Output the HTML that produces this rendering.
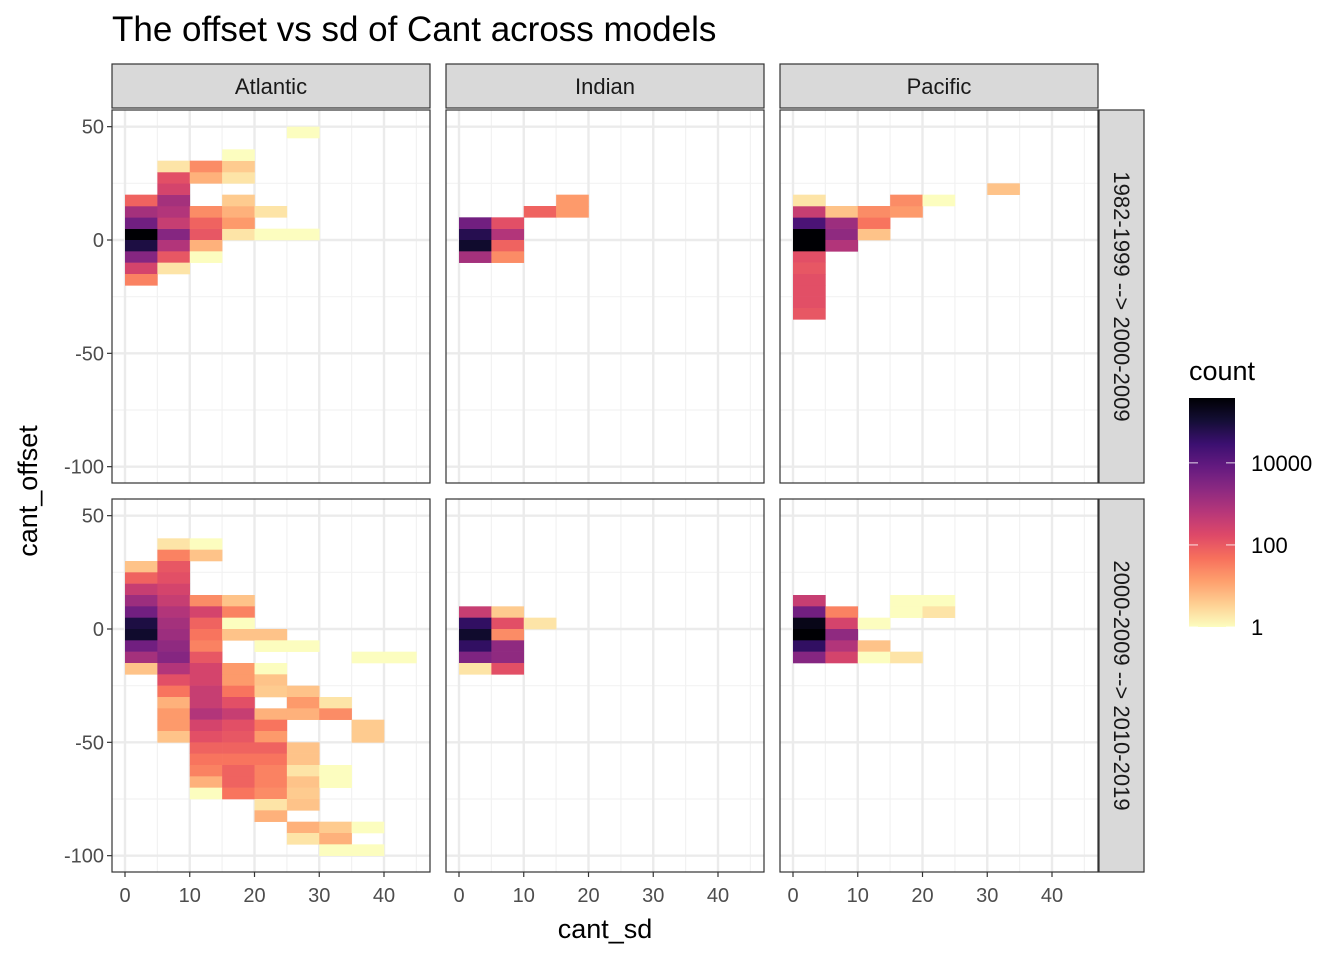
<!DOCTYPE html>
<html><head><meta charset="utf-8"><style>
html,body{margin:0;padding:0;background:#fff;}
svg{display:block;font-family:"Liberation Sans",Arial,sans-serif;}
</style></head><body>
<svg id="chart" width="1344" height="960" viewBox="0 0 1344 960" xmlns="http://www.w3.org/2000/svg">
<rect x="0" y="0" width="1344" height="960" fill="#fff"/>
<text x="112" y="41" font-size="35" fill="#000">The offset vs sd of Cant across models</text>
<g id="panels"></g>
<text x="605" y="938" font-size="27" text-anchor="middle" fill="#000">cant_sd</text>
<text transform="translate(37,491) rotate(-90)" font-size="27" text-anchor="middle" fill="#000">cant_offset</text>
<g>
<text x="1189" y="380" font-size="27" fill="#000">count</text>
<defs><linearGradient id="cg" x1="0" y1="1" x2="0" y2="0"></linearGradient></defs>
<rect x="1189" y="398" width="46" height="229" fill="url(#cg)"/>
<g id="legendTicks"></g>
</g>
</svg>
<script>
// Data: each cell = [sd bin lower edge, offset bin lower edge, count]
const panelRegions = ["Atlantic","Indian","Pacific"];
const panelPeriods = ["1982-1999 --> 2000-2009","2000-2009 --> 2010-2019"];
const atlanticTop = [
[0,0,380000],[5,0,2790],[10,0,108],[15,0,2],[20,0,1],[25,0,1],
[0,5,5350],[5,5,370],[10,5,73],[15,5,15],
[0,10,1080],[5,10,710],[10,10,22],[15,10,8],[20,10,2],
[0,15,73],[5,15,1080],[15,15,4],
[5,20,239],
[5,25,141],[10,25,8],[15,25,2],
[5,30,2],[10,30,22],[15,30,4],
[15,35,1],
[25,45,1],
[0,-5,79000],[5,-5,710],[10,-5,8],
[0,-10,2790],[5,-10,108],[10,-10,1],
[0,-15,239],[5,-15,2],
[0,-20,29]];
const atlanticBottom = [
[5,35,2],[10,35,1],
[5,30,29],[10,30,5],
[0,25,5],[5,25,108],
[0,20,73],[5,20,141],
[0,15,370],[5,15,239],
[0,10,1390],[5,10,370],[10,10,22],[15,10,5],
[0,5,5350],[5,5,710],[10,5,239],[15,5,29],
[0,0,79000],[5,0,1080],[10,0,73],[15,0,1],
[0,-5,134000],[5,-5,1390],[10,-5,42],[15,-5,5],[20,-5,5],
[0,-10,5350],[5,-10,2050],[10,-10,29],[20,-10,1],[25,-10,1],
[0,-15,1080],[5,-15,2790],[10,-15,108],[35,-15,1],[40,-15,1],
[0,-20,5],[5,-20,710],[10,-20,239],[15,-20,15],[20,-20,1],
[5,-25,141],[10,-25,239],[15,-25,15],[20,-25,5],
[5,-30,42],[10,-30,370],[15,-30,42],[20,-30,4],[25,-30,5],
[5,-35,8],[10,-35,370],[15,-35,141],[25,-35,15],[30,-35,2],
[5,-40,15],[10,-40,710],[15,-40,370],[20,-40,8],[25,-40,8],[30,-40,22],
[5,-45,15],[10,-45,239],[15,-45,141],[20,-45,42],[35,-45,4],
[5,-50,5],[10,-50,141],[15,-50,108],[20,-50,15],[35,-50,4],
[10,-55,73],[15,-55,73],[20,-55,73],[25,-55,5],
[10,-60,42],[15,-60,42],[20,-60,42],[25,-60,5],
[10,-65,29],[15,-65,73],[20,-65,29],[25,-65,2],[30,-65,1],
[10,-70,8],[15,-70,73],[20,-70,29],[25,-70,5],[30,-70,1],
[10,-75,1],[15,-75,42],[20,-75,22],[25,-75,4],
[20,-80,2],[25,-80,5],
[20,-85,8],
[25,-90,8],[30,-90,4],[35,-90,1],
[25,-95,2],[30,-95,8],
[30,-100,1],[35,-100,1]];
const indianTop = [
[0,0,59000],[5,0,710],
[0,5,5350],[5,5,141],
[10,10,73],[15,10,15],
[15,15,15],
[0,-5,134000],[5,-5,73],
[0,-10,1080],[5,-10,22]];
const indianBottom = [
[0,5,370],[5,5,4],
[0,0,40000],[5,0,141],[10,0,2],
[0,-5,134000],[5,-5,22],
[0,-10,40000],[5,-10,2050],
[0,-15,3500],[5,-15,2050],
[0,-20,2],[5,-20,141]];
const pacificTop = [
[0,0,380000],[5,0,2050],[10,0,5],
[0,5,17900],[5,5,1390],[10,5,42],
[0,10,370],[5,10,5],[10,10,22],[15,10,15],
[0,15,2],[15,15,22],[20,15,1],
[30,20,5],
[0,-5,380000],[5,-5,710],
[0,-10,141],[0,-15,108],[0,-20,141],[0,-25,141],[0,-30,141],[0,-35,108]];
const pacificBottom = [
[0,10,370],[15,10,1],[20,10,1],
[0,5,5350],[5,5,29],[15,5,1],[20,5,2],
[0,0,228000],[5,0,239],[10,0,1],
[0,-5,380000],[5,-5,2050],
[0,-10,40000],[5,-10,710],[10,-10,5],
[0,-15,2790],[5,-15,239],[10,-15,1],[15,-15,2]];
const panelCells = [[atlanticTop,indianTop,pacificTop],[atlanticBottom,indianBottom,pacificBottom]];
const xTicks = [0,10,20,30,40];
const xMinor = [5,15,25,35,45];
const yTicks = [50,0,-50,-100];
const yMinor = [25,-25,-75];
const legendBreaks = [1,100,10000];
const countMax = 380000;

const NS="http://www.w3.org/2000/svg";
const magma=["#000004","#140e36","#3b0f70","#641a80","#8c2981","#b73779","#de4968","#f7705c","#fe9f6d","#fecf92","#fcfdbf"];
function hex(c){return [parseInt(c.slice(1,3),16),parseInt(c.slice(3,5),16),parseInt(c.slice(5,7),16)];}
function colorAt(p){p=Math.max(0,Math.min(1,p));const f=p*10,i=Math.min(9,Math.floor(f)),t=f-i;const a=hex(magma[i]),b=hex(magma[i+1]);return "rgb("+a.map((v,k)=>Math.round(v+(b[k]-v)*t)).join(",")+")";}
function countColor(c){return colorAt(1-Math.log10(c)/Math.log10(countMax));}
function el(tag,attrs,parent){const e=document.createElementNS(NS,tag);for(const k in attrs)e.setAttribute(k,attrs[k]);parent.appendChild(e);return e;}

const panelX=[112,446,780], panelW=318;
const panelY=[110,499], panelH=373;
const xPx=6.475, yPx=2.2667;
function sx(col,v){return panelX[col]+13+v*xPx;}
function sy(row,v){return panelY[row]+130-v*yPx;}
const root=document.getElementById("panels");

for(let c=0;c<3;c++){
  const s=el("g",{},root);
  
  
  el("rect",{x:panelX[c],y:64,width:panelW,height:44,fill:"#d9d9d9",stroke:"#333","stroke-width":1.2},s);
  const t=el("text",{x:panelX[c]+panelW/2,y:94,"font-size":22,"text-anchor":"middle",fill:"#1a1a1a"},s);
  t.textContent=panelRegions[c];
}
for(let r=0;r<2;r++){
  const s=el("g",{},root);
  
  
  el("rect",{x:1099,y:panelY[r],width:45,height:panelH,fill:"#d9d9d9",stroke:"#333","stroke-width":1.2},s);
  const t=el("text",{transform:"translate(1114,"+(panelY[r]+panelH/2)+") rotate(90)","font-size":22,"text-anchor":"middle",fill:"#1a1a1a"},s);
  t.textContent=panelPeriods[r];
}
for(let r=0;r<2;r++){
  for(let c=0;c<3;c++){
    const g=el("g",{},root);
    
    
    const x0=panelX[c],y0=panelY[r];
    el("rect",{x:x0,y:y0,width:panelW,height:panelH,fill:"#fff"},g);
    xMinor.forEach(v=>{const gl=el("line",{x1:sx(c,v),x2:sx(c,v),y1:y0,y2:y0+panelH,stroke:"#f2f2f2","stroke-width":1.2},g);});
    yMinor.forEach(v=>{const gl=el("line",{x1:x0,x2:x0+panelW,y1:sy(r,v),y2:sy(r,v),stroke:"#f2f2f2","stroke-width":1.2},g);});
    xTicks.forEach(v=>{const gl=el("line",{x1:sx(c,v),x2:sx(c,v),y1:y0,y2:y0+panelH,stroke:"#ebebeb","stroke-width":2.4},g);});
    yTicks.forEach(v=>{const gl=el("line",{x1:x0,x2:x0+panelW,y1:sy(r,v),y2:sy(r,v),stroke:"#ebebeb","stroke-width":2.4},g);});
    panelCells[r][c].forEach(d=>{
      const x1=sx(c,d[0]),x2=sx(c,d[0]+5),yt=sy(r,d[1]+5),yb=sy(r,d[1]);
      const rc=el("rect",{x:x1,y:yt,width:x2-x1+0.3,height:yb-yt+0.3,fill:countColor(d[2])},g);
      
      
    });
    el("rect",{x:x0,y:y0,width:panelW,height:panelH,fill:"none",stroke:"#333","stroke-width":1.2},g);
    if(c===0){
      yTicks.forEach(v=>{
        el("line",{x1:x0-5,x2:x0,y1:sy(r,v),y2:sy(r,v),stroke:"#333","stroke-width":1.2},g);
        const t=el("text",{x:x0-8,y:sy(r,v)+7,"font-size":20,"text-anchor":"end",fill:"#4d4d4d"},g);
        
        
        t.textContent=v;
      });
    }
    if(r===1){
      xTicks.forEach(v=>{
        el("line",{x1:sx(c,v),x2:sx(c,v),y1:y0+panelH,y2:y0+panelH+5,stroke:"#333","stroke-width":1.2},g);
        const t=el("text",{x:sx(c,v),y:y0+panelH+30,"font-size":20,"text-anchor":"middle",fill:"#4d4d4d"},g);
        
        
        t.textContent=v;
      });
    }
  }
}
// legend gradient
const grad=document.getElementById("cg");
for(let i=0;i<=20;i++){const p=i/20;el("stop",{offset:p,"stop-color":colorAt(1-p)},grad);}
const lt=document.getElementById("legendTicks");
const lMax=Math.log10(countMax);
legendBreaks.forEach(b=>{
  const y=627-Math.log10(b)/lMax*229;
  el("line",{x1:1189,x2:1198,y1:y,y2:y,stroke:"#fff","stroke-width":1.2,opacity:0.7},lt);
  el("line",{x1:1226,x2:1235,y1:y,y2:y,stroke:"#fff","stroke-width":1.2,opacity:0.7},lt);
  const t=el("text",{x:1251,y:y+8,"font-size":22,fill:"#000"},lt);
  
  
  t.textContent=b;
});
</script>
</body></html>
